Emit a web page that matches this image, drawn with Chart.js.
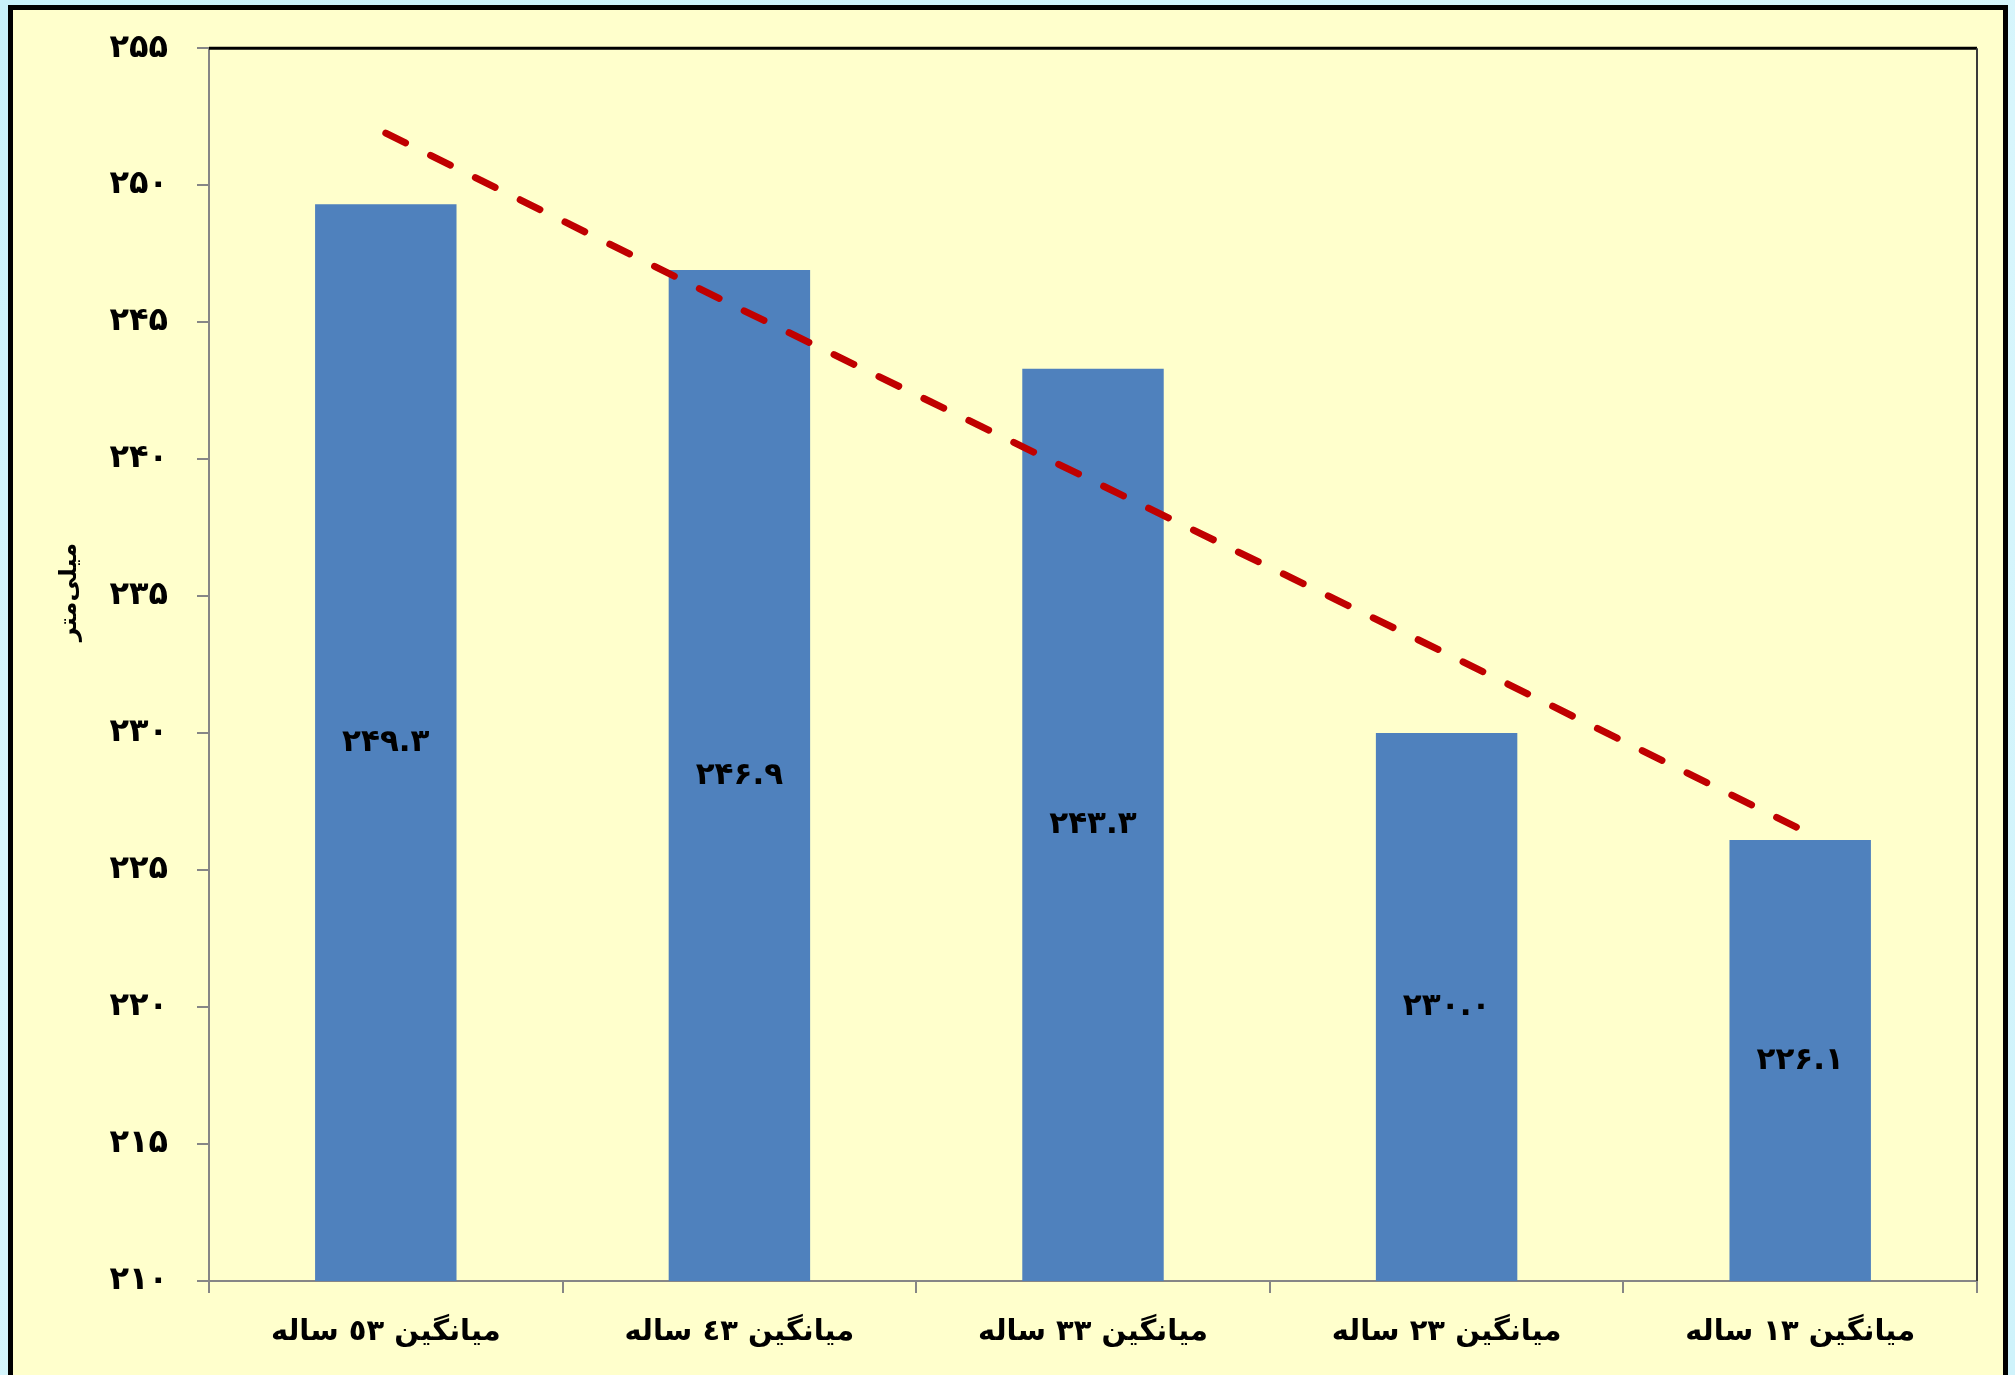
<!DOCTYPE html>
<html lang="fa">
<head>
<meta charset="utf-8">
<title>میانگین بارندگی</title>
<script src="https://cdn.jsdelivr.net/npm/chart.js@4.4.0/dist/chart.umd.min.js"></script>
<style>
  html, body {
    margin: 0;
    padding: 0;
    width: 2015px;
    height: 1375px;
    overflow: hidden;
    background: linear-gradient(160deg, #c8f1fa 0%, #d8f6fc 40%, #cff3fb 100%);
  }
  #frame {
    position: absolute;
    left: 8px;
    top: 5px;
    width: 1990px;
    height: 1400px;
    border: 5px solid #000;
    background: #ffffcc;
  }
  #chart {
    position: absolute;
    left: 0;
    top: 0;
  }
</style>
</head>
<body>
<div id="frame"></div>
<canvas id="chart" width="2015" height="1375"></canvas>
<script>
// data
const categories = ['میانگین ٥٣ ساله', 'میانگین ٤٣ ساله', 'میانگین ۳۳ ساله', 'میانگین ۲۳ ساله', 'میانگین ۱۳ ساله'];
const rainfall = [249.3, 246.9, 243.3, 230.0, 226.1];
const trend = [251.9, 245.5, 239.2, 232.9, 226.5];
const yMin = 210;
const yMax = 255;
const yStep = 5;
const yTitle = 'میلی‌متر';

const FONT = '"DejaVu Sans", "Noto Sans", sans-serif';
const faDigits = '۰۱۲۳۴۵۶۷۸۹';
const toFa = s => String(s).replace(/[0-9]/g, d => faDigits[d]);

// frame edges, value labels in the middle of each bar, axis title
// (excel put the title a bit above the middle of the axis)
const extras = {
  id: 'extras',
  afterDraw(chart) {
    const {ctx, chartArea: a, scales} = chart;
    ctx.save();
    ctx.lineWidth = 3;
    ctx.strokeStyle = '#000';
    ctx.beginPath();
    ctx.moveTo(a.left, a.top);
    ctx.lineTo(a.right, a.top);
    ctx.stroke();
    ctx.lineWidth = 2;
    ctx.strokeStyle = '#3a3a3a';
    ctx.beginPath();
    ctx.moveTo(a.right, a.top);
    ctx.lineTo(a.right, a.bottom);
    ctx.stroke();

    ctx.fillStyle = '#000';
    ctx.textAlign = 'center';
    ctx.textBaseline = 'middle';
    ctx.font = 'bold 31px ' + FONT;
    rainfall.forEach((v, i) => {
      const x = scales.x.getPixelForValue(i);
      const y = scales.y.getPixelForValue((v + yMin) / 2);
      ctx.fillText(toFa(v.toFixed(1)), x, y);
    });

    ctx.translate(70, 592);
    ctx.rotate(-Math.PI / 2);
    ctx.font = 'bold 24px ' + FONT;
    ctx.fillText(yTitle, 0, 0);
    ctx.restore();
  }
};

new Chart(document.getElementById('chart').getContext('2d'), {
  type: 'bar',
  data: {
    labels: categories,
    datasets: [
      {
        type: 'line',
        data: trend,
        borderColor: '#c00000',
        borderWidth: 7,
        borderDash: [22, 28],
        borderCapStyle: 'round',
        pointRadius: 0,
        fill: false,
        order: 0
      },
      {
        data: rainfall,
        backgroundColor: '#4f81bd',
        categoryPercentage: 1,
        barPercentage: 0.4,
        order: 1
      }
    ]
  },
  options: {
    responsive: false,
    animation: false,
    devicePixelRatio: 1,
    layout: {
      padding: {top: 48, right: 38, left: 0, bottom: 0}
    },
    plugins: {
      legend: {display: false},
      tooltip: {enabled: false}
    },
    scales: {
      x: {
        offset: true,
        grid: {
          offset: true,
          drawOnChartArea: false,
          tickLength: 12,
          color: '#868686',
          lineWidth: 2
        },
        border: {color: '#868686', width: 2},
        ticks: {
          color: '#000',
          padding: 22,
          maxRotation: 0,
          font: {family: FONT, size: 29, weight: 'bold'}
        },
        afterFit(scale) { scale.height = 94; }
      },
      y: {
        min: yMin,
        max: yMax,
        grid: {
          drawOnChartArea: false,
          tickLength: 12,
          color: '#868686',
          lineWidth: 2
        },
        border: {color: '#868686', width: 2},
        ticks: {
          stepSize: yStep,
          color: '#000',
          padding: 29,
          font: {family: FONT, size: 32, weight: 'bold'},
          callback: v => toFa(v)
        },
        afterFit(scale) { scale.width = 209; }
      }
    }
  },
  plugins: [extras]
});
</script>
</body>
</html>
